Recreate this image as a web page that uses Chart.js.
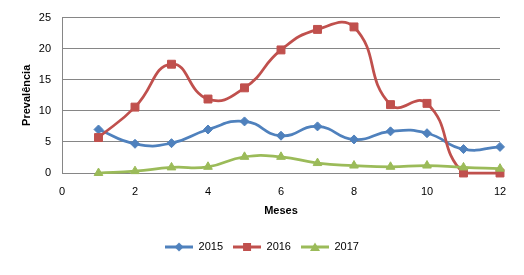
<!DOCTYPE html>
<html>
<head>
<meta charset="utf-8">
<script src="https://cdn.jsdelivr.net/npm/chart.js@4"></script>
<style>
  html,body{margin:0;padding:0;background:#fff;}
  #wrap{width:524px;height:275px;position:relative;}
</style>
</head>
<body>
<div id="wrap"><canvas id="c"></canvas></div>
<script>
// meses (eixo x) e prevalência por ano
const meses = [1,2,3,4,5,6,7,8,9,10,11,12];
const prev2015 = [7.0,4.7,4.8,7.0,8.3,6.0,7.5,5.4,6.7,6.4,3.85,4.2];
const prev2016 = [5.7,10.6,17.5,11.9,13.7,19.8,23.1,23.5,11.0,11.2,0,0];
const prev2017 = [0,0.3,0.9,1.0,2.6,2.6,1.6,1.2,1.0,1.2,0.9,0.7];
const anos = ['2015','2016','2017'];
const xTicks = [0,2,4,6,8,10,12];
const yTicks = [0,5,10,15,20,25];

const AZUL='#4F81BD', VERM='#C0504D', VERDE='#9BBB59';
const GRADE='#868686';
const FONTE='"Liberation Sans", Arial, sans-serif';

function pts(vals){ return meses.map((m,i)=>({x:m, y:vals[i]})); }

// ícone de legenda: linha com o marcador no meio (estilo Excel)
function iconeLegenda(cor, forma){
  const cv = document.createElement('canvas');
  cv.width = 28; cv.height = 12;
  const g = cv.getContext('2d');
  g.strokeStyle = cor; g.lineWidth = 3;
  g.beginPath(); g.moveTo(0,6); g.lineTo(28,6); g.stroke();
  g.fillStyle = cor;
  g.beginPath();
  if(forma==='diamante'){ g.moveTo(14,1.5); g.lineTo(18.5,6); g.lineTo(14,10.5); g.lineTo(9.5,6); }
  else if(forma==='quadrado'){ g.rect(10,2,8,8); }
  else { g.moveTo(14,1.5); g.lineTo(19,10); g.lineTo(9,10); }
  g.closePath(); g.fill();
  return cv;
}
const icones = [iconeLegenda(AZUL,'diamante'), iconeLegenda(VERM,'quadrado'), iconeLegenda(VERDE,'triangulo')];

const base = {borderWidth:2.75, tension:0.5, pointBorderWidth:1, clip:false, showLine:true, fill:false};

new Chart(document.getElementById('c'),{
  type:'scatter',
  data:{datasets:[
    Object.assign({label:anos[0], data:pts(prev2015), borderColor:AZUL, backgroundColor:AZUL, pointStyle:'rectRot', pointRadius:4.5, order:3}, base),
    Object.assign({label:anos[1], data:pts(prev2016), borderColor:VERM, backgroundColor:VERM, pointStyle:'rect', pointRadius:5.6, order:2}, base),
    Object.assign({label:anos[2], data:pts(prev2017), borderColor:VERDE, backgroundColor:VERDE, pointStyle:'triangle', pointRadius:5, order:1}, base)
  ]},
  options:{
    responsive:true, maintainAspectRatio:false, animation:false,
    layout:{padding:{top:15,left:24,right:24,bottom:12.5}},
    plugins:{
      tooltip:{enabled:false},
      legend:{
        position:'bottom',
        labels:{
          usePointStyle:true, pointStyleWidth:28, padding:10,
          color:'#000', font:{family:FONTE,size:11},
          sort:(a,b)=>a.datasetIndex-b.datasetIndex,
          generateLabels:(chart)=>{
            const items = Chart.defaults.plugins.legend.labels.generateLabels(chart);
            items.forEach(it=>{ it.pointStyle = icones[it.datasetIndex]; });
            return items;
          }
        }
      }
    },
    scales:{
      x:{
        type:'linear', min:0, max:12,
        afterBuildTicks:s=>{ s.ticks = xTicks.map(v=>({value:v})); },
        afterFit:s=>{ s.height = 58.5; },
        grid:{display:false, drawTicks:false},
        border:{display:true, color:GRADE, width:1},
        ticks:{color:'#000', padding:12, font:{family:FONTE,size:11}, maxRotation:0, autoSkip:false},
        title:{display:true, text:'Meses', color:'#000', font:{family:FONTE,size:11,weight:'bold'}, padding:{top:0,bottom:13.9}}
      },
      y:{
        min:0, max:25,
        afterBuildTicks:s=>{ s.ticks = yTicks.map(v=>({value:v})); },
        afterFit:s=>{ s.width = 38; },
        grid:{color:GRADE, lineWidth:1, drawTicks:false},
        border:{display:true, color:GRADE, width:1},
        ticks:{color:'#000', padding:11, font:{family:FONTE,size:11}},
        title:{display:true, text:'Prevalência', color:'#000', font:{family:FONTE,size:11,weight:'bold'}, padding:{top:-3.6,bottom:0}}
      }
    }
  }
});
</script>
</body>
</html>
